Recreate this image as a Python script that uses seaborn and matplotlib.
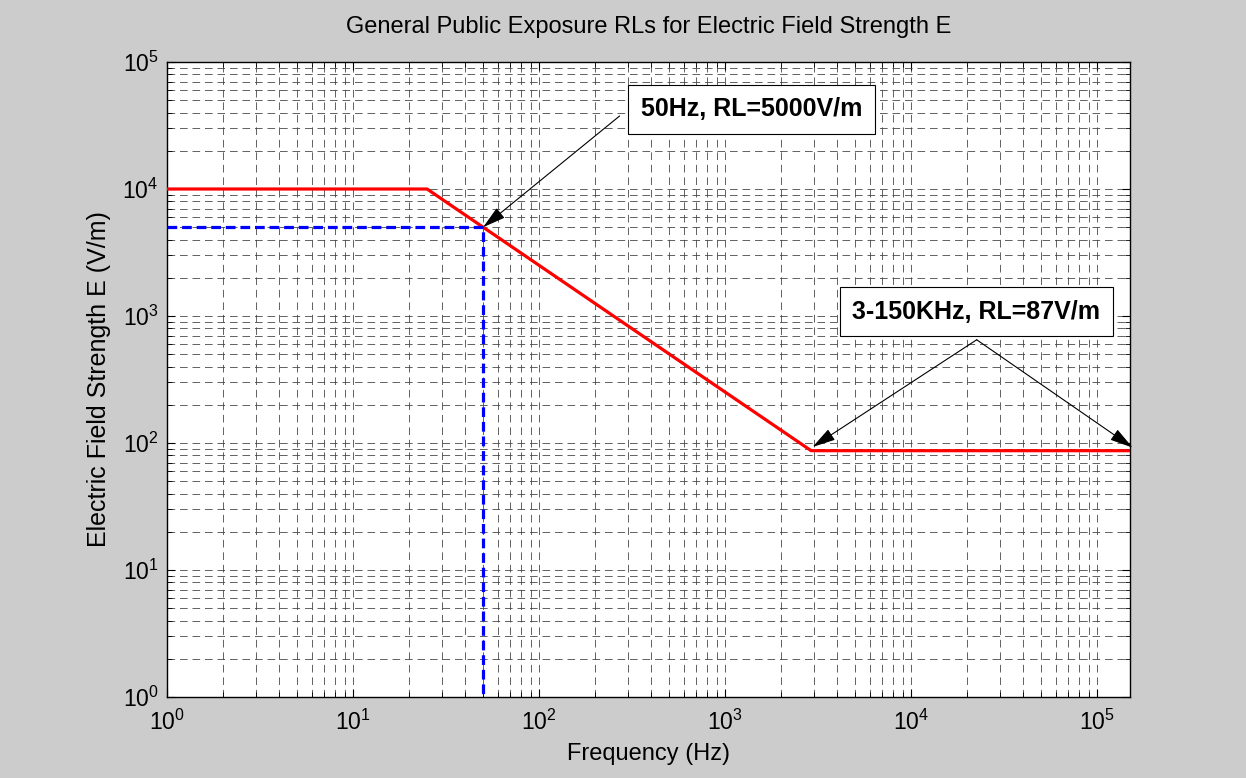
import matplotlib
matplotlib.use("Agg")
import matplotlib.pyplot as plt
import matplotlib.ticker as mticker
import seaborn as sns

# ---- data ----
freq_rl = [1, 25, 2900, 150000]          # Hz
e_rl = [10000, 10000, 87, 87]            # V/m
freq_50 = [1, 50, 50]                    # Hz
e_50 = [5000, 5000, 1]                   # V/m

title = "General Public Exposure RLs for Electric Field Strength E"
xlabel = "Frequency (Hz)"
ylabel = "Electric Field Strength E (V/m)"
note1 = "50Hz, RL=5000V/m"
note2 = "3-150KHz, RL=87V/m"

# ---- style ----
plt.rcParams['font.family'] = ['Liberation Sans', 'DejaVu Sans']
plt.rcParams['mathtext.default'] = 'regular'
plt.rcParams['lines.scale_dashes'] = False

fig = plt.figure(figsize=(12.46, 7.78), dpi=100, facecolor='#cccccc')
ax = fig.add_axes([0.134, 0.1041, 0.7729, 0.8162])
ax.set_facecolor('white')

ax.set_xscale('log')
ax.set_yscale('log')

sns.lineplot(x=freq_rl, y=e_rl, ax=ax, color='#ff0000', lw=2.3,
             estimator=None, sort=False, zorder=3)
sns.lineplot(x=freq_50, y=e_50, ax=ax, color='#0000ff', lw=2.3,
             estimator=None, sort=False, zorder=3, linestyle=(0, (7, 3.5)))

ax.set_xlim(1, 1.5e5)
ax.set_ylim(1, 1e5)

ax.xaxis.set_major_locator(mticker.LogLocator(base=10, numticks=20))
ax.yaxis.set_major_locator(mticker.LogLocator(base=10, numticks=20))
ax.xaxis.set_minor_locator(mticker.LogLocator(base=10, subs=range(2, 10), numticks=100))
ax.yaxis.set_minor_locator(mticker.LogLocator(base=10, subs=range(2, 10), numticks=100))
ax.xaxis.set_minor_formatter(mticker.NullFormatter())
ax.yaxis.set_minor_formatter(mticker.NullFormatter())

ax.grid(True, which='both', color='0.28', lw=0.6, linestyle=(0, (5.5, 3.5)))
ax.set_axisbelow(True)

ax.tick_params(which='both', direction='in', top=True, right=True, color='black')
ax.tick_params(which='major', length=6, width=0.8, labelsize=16.5)
ax.tick_params(axis='x', which='major', pad=9)
ax.tick_params(axis='y', which='major', pad=6)
ax.tick_params(which='minor', length=3.5, width=0.6)
for s in ax.spines.values():
    s.set_linewidth(1.0)
    s.set_color('black')

ax.set_title(title, fontsize=17, pad=21)
ax.set_xlabel(xlabel, fontsize=17, labelpad=6)
ax.set_ylabel(ylabel, fontsize=18, labelpad=8)

# annotations
box = dict(boxstyle='square,pad=0.5', fc='white', ec='black', lw=0.8)
ax.text(1386, 42300, note1, ha='center', va='center', fontsize=18,
        fontweight='bold', bbox=box, zorder=5)
ax.text(22400, 1085, note2, ha='center', va='center', fontsize=18,
        fontweight='bold', bbox=box, zorder=5)

aprops = dict(arrowstyle='-|>,head_length=1.1,head_width=0.3', color='black',
              lw=0.8, mutation_scale=13, shrinkA=0, shrinkB=0)
ax.annotate('', xy=(50, 5000), xytext=(271, 37600), arrowprops=aprops,
            zorder=6, annotation_clip=False)
ax.annotate('', xy=(2950, 93), xytext=(22500, 650), arrowprops=aprops,
            zorder=6, annotation_clip=False)
ax.annotate('', xy=(1.55e5, 92), xytext=(22500, 650), arrowprops=aprops,
            zorder=6, annotation_clip=False)

fig.savefig('out.png', dpi=100, facecolor=fig.get_facecolor())
